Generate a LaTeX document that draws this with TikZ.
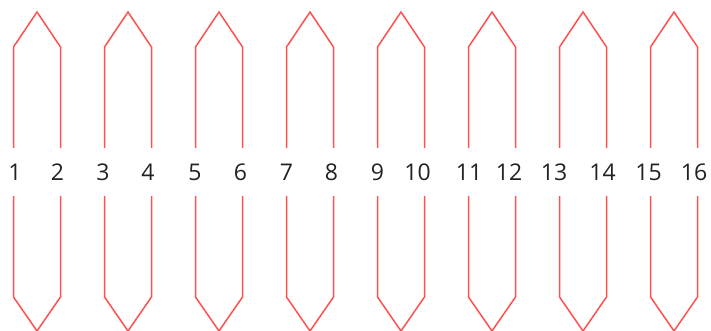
\documentclass[tikz,border=0pt]{standalone}
\usepackage{fontspec}
\setmainfont{Open Sans}
\definecolor{pinred}{RGB}{255,80,80}
\definecolor{labelgray}{RGB}{34,34,34}
\tikzset{
  pinshape/.style={draw=pinred, line width=1.5pt, line join=miter},
  pinlabel/.style={text=labelgray, font=\fontsize{23}{23}\selectfont, inner sep=0pt, anchor=center}
}
\begin{document}
\begin{tikzpicture}[x=1pt,y=-1pt]
\useasboundingbox (0,0) rectangle (711,331);
\foreach \i in {0,...,7}{
  \pgfmathsetmacro{\c}{37+91*\i}
  \pgfmathsetmacro{\l}{\c-23.5}
  \pgfmathsetmacro{\r}{\c+23.5}
  \draw[pinshape] (\l,148) -- (\l,47) -- (\c,12) -- (\r,47) -- (\r,148);
  \draw[pinshape] (\l,196) -- (\l,297) -- (\c,331) -- (\r,297) -- (\r,196);
}
\foreach \n/\x in {1/15,2/57.5,3/103,4/148,5/195,6/240.5,7/286.5,8/331.5,9/377.5,10/417.5,11/469,12/509,13/554,14/602.5,15/648.5,16/694}{
  \node[pinlabel] (lab\n) at (\x,172) {\n};
}
\end{tikzpicture}
\end{document}
